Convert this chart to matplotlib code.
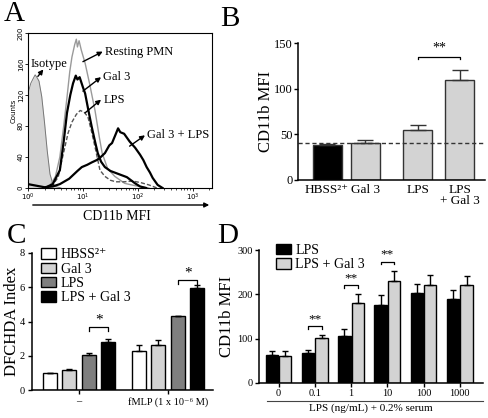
import matplotlib
matplotlib.use("Agg")
import matplotlib.pyplot as plt
import numpy as np

plt.rcParams['font.family'] = ['Liberation Serif', 'DejaVu Serif']
plt.rcParams['mathtext.fontset'] = 'stix'

# ---- panel A: flow histograms (log10 CD11b MFI, counts)
iso_log = [0, 0.05, 0.1, 0.13, 0.16, 0.2, 0.25, 0.3, 0.35, 0.4, 0.45, 0.5, 0.6]
iso_cnt = [122, 135, 142, 146, 143, 138, 118, 85, 48, 18, 6, 2, 0]
rest_log = [0.3, 0.4, 0.5, 0.58, 0.65, 0.71, 0.76, 0.8, 0.85, 0.88, 0.9, 0.93, 0.97,
            1.04, 1.12, 1.22, 1.3, 1.35, 1.45, 1.58, 1.76, 1.95, 2.2]
rest_cnt = [0, 3, 15, 40, 80, 117, 150, 169, 185, 192, 182, 190, 178,
            161, 135, 100, 65, 45, 25, 15, 6, 3, 0]
gal_log = [0.3, 0.45, 0.58, 0.65, 0.71, 0.77, 0.82, 0.87, 0.9, 0.94, 1.0, 1.04, 1.1,
           1.16, 1.22, 1.27, 1.33, 1.4, 1.5, 1.65, 1.8, 1.95, 2.04, 2.15]
gal_cnt = [0, 5, 23, 60, 97, 120, 135, 145, 140, 143, 130, 122, 100,
           79, 60, 45, 34, 27, 22, 18, 14, 6, 2, 0]
lps_log = [0.3, 0.45, 0.55, 0.63, 0.73, 0.8, 0.88, 0.95, 1.02, 1.09, 1.15, 1.22, 1.31,
           1.4, 1.5, 1.6, 1.75, 1.9, 2.05, 2.2, 2.35]
lps_cnt = [0, 4, 14, 40, 71, 85, 95, 100, 98, 92, 75, 53, 23,
           15, 10, 8, 8, 9, 7, 4, 0]
both_log = [0, 0.15, 0.3, 0.45, 0.58, 0.75, 0.9, 0.98, 1.08, 1.16, 1.25, 1.31, 1.4, 1.48,
            1.53, 1.6, 1.64, 1.68, 1.75, 1.85, 1.95, 2.04, 2.1, 2.16, 2.22, 2.27, 2.32,
            2.36, 2.45]
both_cnt = [5, 3, 1, 2, 5, 12, 22, 27, 30, 33, 36, 39, 45, 55,
            58, 70, 77, 72, 70, 60, 52, 43, 36, 27, 20, 13, 8,
            4, 0]

# ---- panel B
b_labels = ['HBSS²⁺', 'Gal 3', 'LPS', 'LPS\n+ Gal 3']
b_vals = [38, 40, 55, 110]
b_err = [1, 4, 5, 10]
b_baseline = 40

# ---- panel C
c_groups = ['–', 'fMLP (1 x 10⁻⁶ M)']
c_series = ['HBSS²⁺', 'Gal 3', 'LPS', 'LPS + Gal 3']
c_vals = [[1.0, 2.3], [1.15, 2.65], [2.05, 4.3], [2.8, 5.95]]
c_err = [[0, 0.3], [0.1, 0.25], [0.1, 0], [0.2, 0.2]]

# ---- panel D
d_doses = ['0', '0.1', '1', '10', '100', '1000']
d_lps = [64, 67, 107, 177, 203, 189]
d_lps_err = [9, 7, 15, 21, 21, 21]
d_gal = [62, 101, 180, 231, 220, 220]
d_gal_err = [10, 7, 21, 21, 23, 21]

W, H = 489, 418
fig = plt.figure(figsize=(W / 100, H / 100), dpi=100)


def box(l, r, t, b):
    return [l / W, (H - b) / H, (r - l) / W, (b - t) / H]


# ================= A =================
axA = fig.add_axes(box(28, 212, 33, 188))
lx = lambda v: 10 ** np.asarray(v, dtype=float)
axA.fill_between(lx(iso_log), iso_cnt, color='#d6d6d6', lw=0)
axA.plot(lx(iso_log), iso_cnt, color='#777777', lw=0.7)
axA.plot(lx(rest_log), rest_cnt, color='#9a9a9a', lw=1.0)
axA.plot(lx(lps_log), lps_cnt, color='#555555', lw=1.0, ls=(0, (3, 1.5)))
axA.plot(lx(gal_log), gal_cnt, color='black', lw=1.6)
axA.plot(lx(both_log), both_cnt, color='black', lw=1.6)
axA.set_xscale('log')
axA.set_xlim(1, 10 ** 3.35)
axA.set_ylim(0, 200)
axA.set_yticks([0, 40, 80, 120, 160, 200])
axA.tick_params(labelsize=5, length=2, width=0.6, pad=1)
axA.tick_params(which='minor', length=1.2, width=0.5)
for lab in axA.get_yticklabels():
    lab.set_rotation(90)
    lab.set_va('center')
    lab.set_family('DejaVu Sans')
for lab in axA.get_xticklabels():
    lab.set_family('DejaVu Sans')
axA.set_ylabel('Counts', fontsize=5, family='DejaVu Sans', labelpad=1)
for s in axA.spines.values():
    s.set_linewidth(0.8)

arrows = [
    ('Resting PMN', (1.0, 163), (1.36, 176), (1.4, 176)),
    ('Gal 3', (1.0, 125), (1.33, 143), (1.37, 143)),
    ('LPS', (1.04, 97), (1.33, 114), (1.37, 114)),
    ('Gal 3 + LPS', (1.85, 54), (2.13, 68), (2.17, 68)),
    ('Isotype', (0.18, 144), (0.28, 153), None),
]
for name, tail, head, tpos in arrows:
    axA.annotate('', xy=(10 ** head[0], head[1]), xytext=(10 ** tail[0], tail[1]),
                 arrowprops=dict(arrowstyle='-|>', color='black', lw=1.0,
                                 mutation_scale=7, shrinkA=0, shrinkB=0))
    if tpos:
        axA.text(10 ** tpos[0], tpos[1], name, fontsize=9, va='center', ha='left')
axA.text(10 ** 0.04, 160, 'Isotype', fontsize=9, va='center', ha='left')

fig.add_artist(matplotlib.patches.FancyArrowPatch(
    (30 / W, 1 - 205 / H), (212 / W, 1 - 205 / H), transform=fig.transFigure,
    arrowstyle='-|>', mutation_scale=7, color='black', lw=1.0))
fig.text(117 / W, 1 - 216 / H, 'CD11b MFI', fontsize=10, ha='center', va='center')

# ================= B =================
axB = fig.add_axes(box(298, 485, 43, 180))
b_pos = [0, 1.27, 3.03, 4.43]
axB.bar(b_pos, b_vals, width=0.97, color=['black', '#d3d3d3', '#d3d3d3', '#d3d3d3'],
        edgecolor='#333333', lw=1.0)
axB.errorbar(b_pos, b_vals, yerr=[[0] * 4, b_err], fmt='none', ecolor='#333333',
             elinewidth=1.0, capsize=6, capthick=1.0)
axB.axhline(b_baseline, color='#333333', ls=(0, (3, 2)), lw=1.0)
axB.set_xlim(-0.97, 5.27)
axB.set_ylim(0, 150)
axB.set_yticks([0, 50, 100, 150])
axB.set_xticks(b_pos)
axB.set_xticklabels(b_labels, linespacing=0.9)
axB.tick_params(axis='x', length=0, labelsize=9.5, pad=3)
axB.tick_params(axis='y', labelsize=9, length=3, width=1.0, pad=1)
axB.set_ylabel('CD11b MFI', fontsize=12)
axB.yaxis.set_label_coords(-0.13, 0.5)
for s in ['top', 'right']:
    axB.spines[s].set_visible(False)
for s in ['left', 'bottom']:
    axB.spines[s].set_linewidth(1.1)
axB.plot([b_pos[2], b_pos[2], b_pos[3], b_pos[3]], [132, 135, 135, 132], color='black', lw=0.9)
axB.text((b_pos[2] + b_pos[3]) / 2, 137, '**', ha='center', va='bottom', fontsize=10)

# ================= C =================
axC = fig.add_axes(box(32, 213, 253, 390))
c_colors = ['white', '#d3d3d3', '#7f7f7f', 'black']
g_start = [0, 4.56]
for i, name in enumerate(c_series):
    xs = [g + i for g in g_start]
    axC.bar(xs, c_vals[i], width=0.72, color=c_colors[i], edgecolor='black', lw=1.0,
            label=name)
    axC.errorbar(xs, c_vals[i], yerr=[[0, 0], c_err[i]], fmt='none', ecolor='black',
                 elinewidth=1.0, capsize=2.5, capthick=1.0)
axC.set_xlim(-0.92, 8.36)
axC.set_ylim(0, 8)
axC.set_yticks([0, 2, 4, 6, 8])
axC.set_xticks([g + 1.5 for g in g_start])
axC.set_xticklabels(c_groups)
axC.tick_params(labelsize=7.5, length=3, width=1.0, pad=2)
axC.set_ylabel('DFCHDA Index', fontsize=12)
axC.yaxis.set_label_coords(-0.066, 0.5)
for s in ['top', 'right']:
    axC.spines[s].set_visible(False)
for s in ['left', 'bottom']:
    axC.spines[s].set_linewidth(1.1)
for x0, yb, txt in [(2, 3.65, '*'), (6.56, 6.4, '*')]:
    axC.plot([x0, x0, x0 + 1, x0 + 1], [yb - 0.2, yb, yb, yb - 0.2], color='black', lw=0.9)
    axC.text(x0 + 0.5, yb + 0.05, txt, ha='center', va='bottom', fontsize=11)
axC.legend(loc='upper left', bbox_to_anchor=(0.02, 1.075), frameon=False, fontsize=10,
           handlelength=1.1, handleheight=0.8, handletextpad=0.3, labelspacing=0.08,
           borderaxespad=0)

# ================= D =================
axD = fig.add_axes(box(259, 483, 250, 383))
xd = np.arange(len(d_doses))
off, bw = 0.185, 0.34
axD.bar(xd - off, d_lps, width=bw, color='black', edgecolor='black', lw=1.0, label='LPS')
axD.bar(xd + off, d_gal, width=bw, color='#d3d3d3', edgecolor='black', lw=1.0,
        label='LPS + Gal 3')
axD.errorbar(xd - off, d_lps, yerr=[[0] * 6, d_lps_err], fmt='none', ecolor='black',
             elinewidth=1.0, capsize=2.5, capthick=1.0)
axD.errorbar(xd + off, d_gal, yerr=[[0] * 6, d_gal_err], fmt='none', ecolor='black',
             elinewidth=1.0, capsize=2.5, capthick=1.0)
axD.set_xlim(-0.54, 5.64)
axD.set_ylim(0, 300)
axD.set_yticks([0, 100, 200, 300])
axD.set_xticks(xd)
axD.set_xticklabels(d_doses)
axD.tick_params(labelsize=7.5, length=3, width=1.0, pad=1.5)
axD.set_ylabel('CD11b MFI', fontsize=12)
axD.yaxis.set_label_coords(-0.105, 0.5)
for s in ['top', 'right']:
    axD.spines[s].set_visible(False)
for s in ['left', 'bottom']:
    axD.spines[s].set_linewidth(1.1)
for i, yb in [(1, 128), (2, 220), (3, 274)]:
    axD.plot([i - off, i - off, i + off, i + off], [yb - 6, yb, yb, yb - 6], color='black', lw=0.9)
    axD.text(i, yb + 3, '**', ha='center', va='bottom', fontsize=9.5)
axD.plot([0.036, 1.0], [-0.135, -0.135], transform=axD.transAxes, clip_on=False,
         color='#444444', lw=0.8)
axD.text(0.5, -0.19, 'LPS (ng/mL) + 0.2% serum', transform=axD.transAxes,
         ha='center', va='center', fontsize=8)
axD.legend(loc='upper left', bbox_to_anchor=(0.05, 1.09), frameon=False, fontsize=10,
           handlelength=1.1, handleheight=0.8, handletextpad=0.3, labelspacing=0.1,
           borderaxespad=0)

# panel letters
for letter, (px, py) in {'A': (14, 21), 'B': (230, 26), 'C': (17, 243), 'D': (228, 243)}.items():
    fig.text(px / W, 1 - py / H, letter, fontsize=21, ha='center', va='baseline')

fig.savefig('out.png', dpi=100)
